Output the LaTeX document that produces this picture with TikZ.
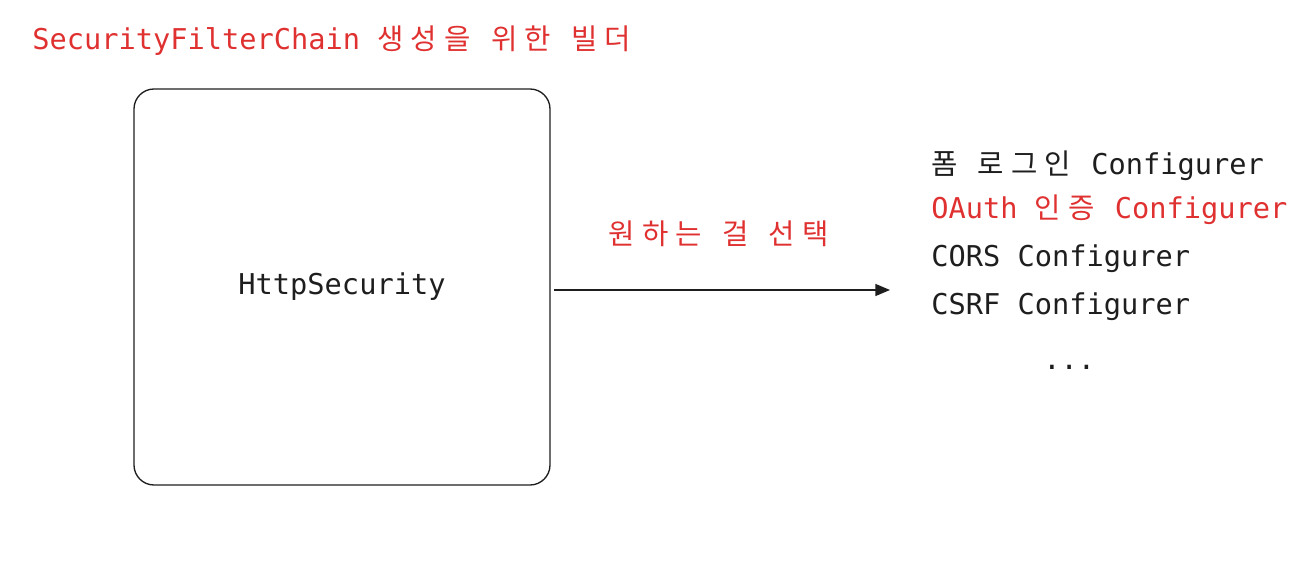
\documentclass[tikz,border=0pt]{standalone}
\usepackage{fontspec}
\setmainfont{DejaVu Sans Mono}
\newfontfamily\krfont[LetterSpace=25]{Noto Sans CJK KR}
\newcommand{\kr}[1]{{\krfont #1\kern0.1em}}
\usetikzlibrary{arrows.meta}
\definecolor{exred}{HTML}{E03131}
\definecolor{exblack}{HTML}{1E1E1E}

\begin{document}
\begin{tikzpicture}[x=0.75pt,y=-0.75pt]
\tikzstyle{every node}+=[inner sep=0pt, text=exblack, font=\fontsize{21.5}{26}\selectfont]
\tikzstyle{redtext}=[text=exred]
\tikzstyle{item}=[anchor=base west]
\useasboundingbox (0,0) rectangle (1315,570);
\node [redtext, anchor=base west] (title) at (32,50) {SecurityFilterChain \kr{생성을} \kr{위한} \kr{빌더}};
\node [draw=exblack, line width=1pt, rounded corners=15pt, minimum width=312pt, minimum height=297pt] (http) at (342,287) {HttpSecurity};
\node [redtext, anchor=base] (pick) at (720,245) {\kr{원하는} \kr{걸} \kr{선택}};
\coordinate (end) at (890,290);
\draw [exblack, line width=1.1pt, -{Triangle[length=11pt, width=9pt]}] (http.east |- end) ++(3,0) -- (end);
\node [item] (form) at (931,175) {\kr{폼} \kr{로그인} Configurer};
\node [item, redtext] (oauth) at (931,219) {OAuth \kr{인증} Configurer};
\node [item] (cors) at (931,267) {CORS Configurer};
\node [item] (csrf) at (931,315) {CSRF Configurer};
\node [item] (more) at (1043,370) {...};
\end{tikzpicture}
\end{document}
